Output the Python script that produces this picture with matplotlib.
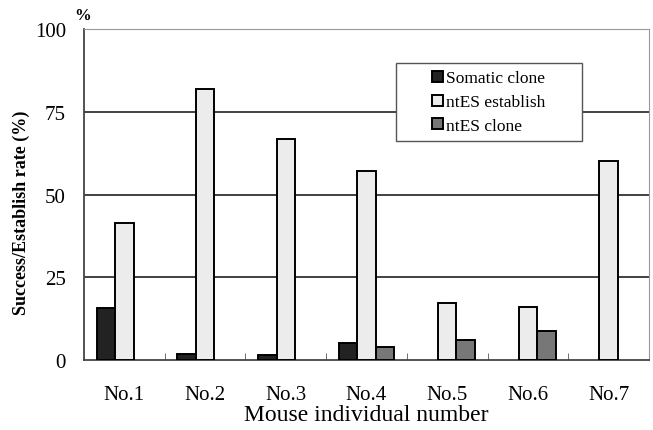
import numpy as np
import matplotlib.pyplot as plt
from matplotlib.patches import Rectangle

mice = ['No.1', 'No.2', 'No.3', 'No.4', 'No.5', 'No.6', 'No.7']
somatic = np.array([15.7, 1.8, 1.5, 5.0, 0, 0, 0])
ntes_est = np.array([41.5, 82.0, 66.7, 57.0, 17.1, 16.1, 60.1])
ntes_clone = np.array([0, 0, 0, 3.9, 6.1, 8.7, 0])

plt.rcParams['font.family'] = ['Liberation Serif', 'DejaVu Serif']

fig = plt.figure(figsize=(6.53, 4.31), dpi=100)
ax = fig.add_axes([84/653, 1-361/431, 565/653, 331/431])

x = np.arange(len(mice))
w = 0.23
lw = 1.4
series = [(somatic, -w, '#222222', 'Somatic clone'),
          (ntes_est, 0, '#ececec', 'ntES establish'),
          (ntes_clone, w, '#777777', 'ntES clone')]
for vals, off, col, lab in series:
    keep = vals > 0
    ax.bar(x[keep] + off, vals[keep], w, color=col, edgecolor='black',
           linewidth=lw, label=lab, zorder=3)

ax.set_xlim(-0.5, len(mice) - 0.5)
ax.set_ylim(0, 100)
ax.set_yticks([0, 25, 50, 75, 100])
ax.tick_params(axis='y', length=0, labelsize=15, pad=13)
ax.set_xticks(x)
ax.set_xticklabels(mice)
ax.tick_params(axis='x', which='major', length=0, labelsize=15, pad=18)
ax.set_xticks(np.arange(0.5, len(mice) - 1, 1), minor=True)
ax.tick_params(axis='x', which='minor', direction='in', length=5, color='#555555')

for yv in [25, 50, 75]:
    ax.axhline(yv, color='#333333', linewidth=1.3, zorder=1)

ax.spines['left'].set_color('#444444')
ax.spines['left'].set_linewidth(1.3)
ax.spines['bottom'].set_color('#444444')
ax.spines['bottom'].set_linewidth(1.3)
ax.spines['top'].set_color('#999999')
ax.spines['right'].set_color('#999999')

ax.set_xlabel('Mouse individual number', fontsize=17, labelpad=0)
ax.set_ylabel('Success/Establish rate (%)', fontsize=13, fontweight='bold')
ax.yaxis.set_label_coords(-0.095, 0.447)
fig.text(83/653, 1-16/431, '%', fontsize=12, fontweight='bold', ha='center', va='center')

# legend box
ax.add_patch(Rectangle((0.552, 0.662), 0.329, 0.236, transform=ax.transAxes,
                       facecolor='white', edgecolor='#555555', linewidth=1.0, zorder=4))
leg = ax.legend(loc='center', bbox_to_anchor=(0.717, 0.779),
                fontsize=12.5, frameon=False,
                handlelength=0.6, handleheight=0.6, handletextpad=0.2,
                labelspacing=0.45, borderpad=0, borderaxespad=0)
leg.set_zorder(5)

fig.savefig('out.png', dpi=100)
